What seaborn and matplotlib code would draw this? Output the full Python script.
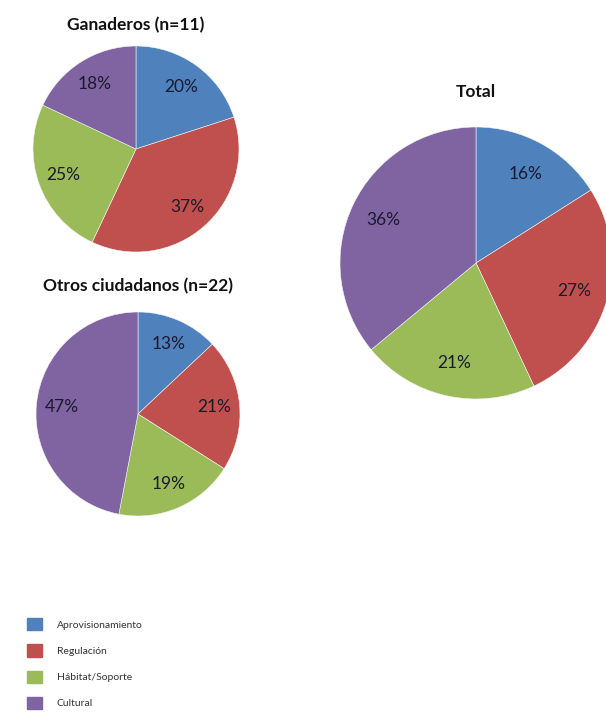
import matplotlib
matplotlib.use("Agg")
import numpy as np
import matplotlib.pyplot as plt
import matplotlib.patches as mpatches
import seaborn as sns

categories = ["Aprovisionamiento", "Regulación", "Hábitat/Soporte", "Cultural"]
ganaderos = [20, 37, 25, 18]
otros = [13, 21, 19, 47]
total = [16, 27, 21, 36]
titles = ["Ganaderos (n=11)", "Otros ciudadanos (n=22)", "Total"]

colors = ["#4F81BD", "#C0504D", "#9BBB59", "#8064A2"]

sns.set_theme(style="white")
plt.rcParams["font.family"] = ["Lato", "DejaVu Sans"]

W, H = 606, 713
fig = plt.figure(figsize=(W / 100, H / 100), dpi=100)


def pie_axes(cx, cy, r):
    # pixel center/radius -> figure coords
    return fig.add_axes([(cx - r) / W, (H - cy - r) / H, 2 * r / W, 2 * r / H])


def draw_pie(ax, values, title, title_gap):
    ax.pie(values, colors=colors, startangle=90, counterclock=False,
           wedgeprops=dict(linewidth=0.4, edgecolor="#f4f4f4"))
    ax.set_xlim(-1, 1)
    ax.set_ylim(-1, 1)
    ax.set_aspect("equal")
    ax.axis("off")
    # percentage labels, placed like Excel's best fit
    cum = 0
    for v in values:
        mid = (cum + v / 2) / 100 * 2 * np.pi
        d = 0.75
        ax.text(d * np.sin(mid), d * np.cos(mid), f"{v}%", ha="center",
                va="center", fontsize=12.5, color="#1a1a2e")
        cum += v
    ax.text(0, 1 + title_gap, title, ha="center", va="center",
            fontsize=12.5, fontweight="bold", color="#111111")


ax1 = pie_axes(136, 149, 103)
draw_pie(ax1, ganaderos, titles[0], 0.2)
ax2 = pie_axes(138, 414, 102)
draw_pie(ax2, otros, titles[1], 0.25)
ax3 = pie_axes(476, 263, 136)
draw_pie(ax3, total, titles[2], 0.26)

handles = [mpatches.Patch(color=c, label=l) for c, l in zip(colors, categories)]
fig.legend(handles=handles, loc="upper left", bbox_to_anchor=(18 / W, 1 - 609 / H),
           frameon=False, fontsize=7.5, handlelength=1.4, handleheight=1.4,
           labelspacing=1.35, handletextpad=1.4, labelcolor="#333333")

fig.savefig("out.png", dpi=100)
